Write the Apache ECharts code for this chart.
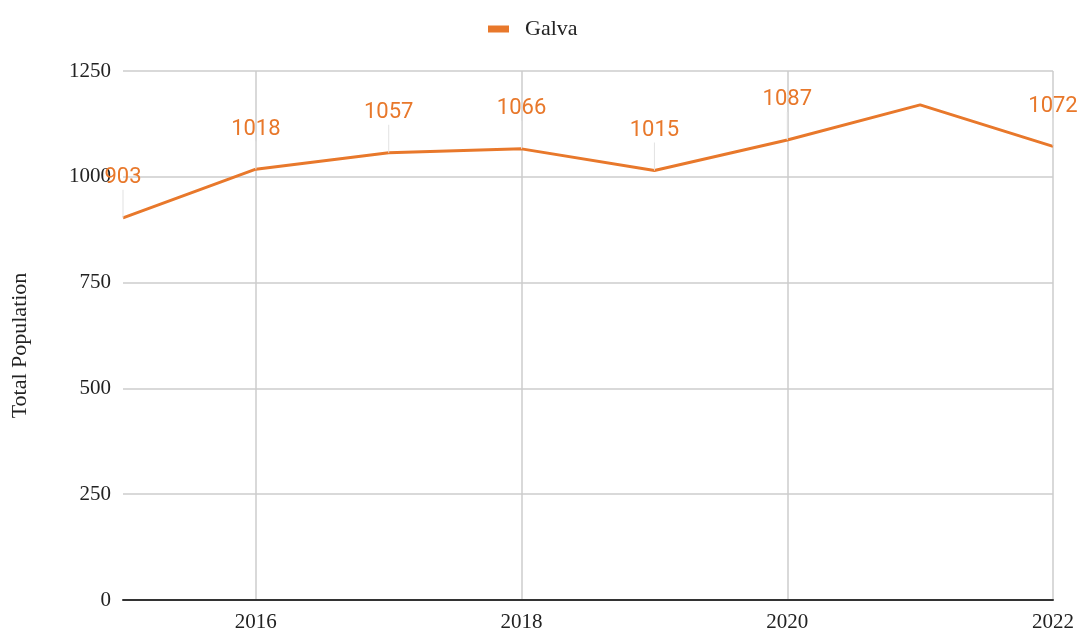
<!DOCTYPE html>
<html>
<head>
<meta charset="utf-8">
<script src="https://cdn.jsdelivr.net/npm/echarts@6/dist/echarts.min.js"></script>
<style>
  html, body { margin: 0; padding: 0; background: #fff; }
  #chart { width: 1081px; height: 641px; }
</style>
</head>
<body>
<div id="chart"></div>
<script>
const years = ['2015', '2016', '2017', '2018', '2019', '2020', '2021', '2022'];
const population = [903, 1018, 1057, 1066, 1015, 1087, 1170, 1072];
const shownLabels = [true, true, true, true, true, true, false, true];
const yTicks = [0, 250, 500, 750, 1000, 1250];

const orange = '#E8782B';
const serif = '"Liberation Serif", "DejaVu Serif", serif';

let chart = echarts.init(document.getElementById('chart'));
let options = {
  animation: false,
  legend: {
    top: 13,
    left: 483,
    itemWidth: 21,
    itemHeight: 7,
    icon: 'rect',
    textStyle: {fontFamily: serif, fontSize: 22, color: '#222', padding: [0, 0, 0, 11]},
    data: ['Galva']
  },
  grid: {left: 123, right: 28, top: 71, bottom: 41},
  xAxis: {
    type: 'category',
    data: years,
    boundaryGap: false,
    axisLine: {lineStyle: {color: '#333', width: 2}},
    axisTick: {show: false},
    axisLabel: {
      interval: (i) => i % 2 === 1,
      fontFamily: serif, fontSize: 21, color: '#222', margin: 12
    },
    splitLine: {
      show: true,
      interval: (i) => i % 2 === 1,
      lineStyle: {color: '#cccccc', width: 1.5}
    }
  },
  yAxis: {
    type: 'value',
    min: yTicks[0],
    max: yTicks[yTicks.length - 1],
    interval: 250,
    name: 'Total Population',
    nameLocation: 'middle',
    nameGap: 92,
    nameTextStyle: {fontFamily: serif, fontSize: 22, color: '#222', padding: [0, 20, 0, 0]},
    axisLine: {show: false},
    axisTick: {show: false},
    axisLabel: {
      formatter: (v) => String(v),
      fontFamily: serif, fontSize: 21, color: '#222', margin: 12
    },
    splitLine: {lineStyle: {color: '#cccccc', width: 1.5}}
  },
  series: [{
    name: 'Galva',
    type: 'line',
    data: population.map((v, i) => ({
      value: v,
      label: {show: shownLabels[i]}
    })),
    showSymbol: true,
    symbol: 'circle',
    symbolSize: 0,
    itemStyle: {color: orange},
    lineStyle: {color: orange, width: 3},
    label: {
      show: true,
      position: 'top',
      distance: 0,
      formatter: (p) => '{v|' + p.value + '}\n{l| }',
      rich: {
        v: {color: orange, fontFamily: 'Roboto, sans-serif', fontSize: 22, lineHeight: 24},
        l: {width: 1, height: 28, lineHeight: 28, backgroundColor: '#e2e2e2', fontSize: 1}
      }
    },
    z: 3
  }]
};
chart.setOption(options);
</script>
</body>
</html>
